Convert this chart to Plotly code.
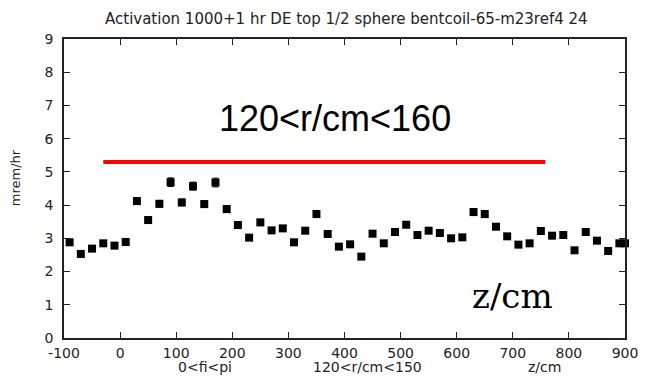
import plotly.graph_objects as go

z_cm = [-90, -70, -50, -30, -10, 10, 30, 50, 70, 90, 110, 130, 150, 170, 190, 210, 230,
        250, 270, 290, 310, 330, 350, 370, 390, 410, 430, 450, 470, 490, 510, 530, 550,
        570, 590, 610, 630, 650, 670, 690, 710, 730, 750, 770, 790, 810, 830, 850, 870,
        890, 900]
dose = [2.88, 2.53, 2.69, 2.85, 2.78, 2.89, 4.12, 3.55, 4.04, 4.69, 4.08, 4.57, 4.03, 4.68,
        3.88, 3.40, 3.02, 3.48, 3.24, 3.30, 2.88, 3.23, 3.73, 3.13, 2.75, 2.82, 2.45, 3.14,
        2.85, 3.19, 3.41, 3.10, 3.23, 3.16, 3.00, 3.03, 3.79, 3.73, 3.35, 3.06, 2.81, 2.85,
        3.22, 3.08, 3.10, 2.64, 3.19, 2.93, 2.62, 2.85, 2.85]
dose_err = [0.07, 0.06, 0.07, 0.07, 0.07, 0.07, 0.10, 0.09, 0.10, 0.13, 0.10, 0.12, 0.10, 0.13,
            0.10, 0.09, 0.07, 0.09, 0.08, 0.08, 0.07, 0.08, 0.10, 0.08, 0.07, 0.07, 0.06, 0.08,
            0.07, 0.08, 0.09, 0.08, 0.08, 0.08, 0.07, 0.07, 0.10, 0.10, 0.09, 0.08, 0.07, 0.07,
            0.08, 0.08, 0.08, 0.07, 0.08, 0.07, 0.07, 0.07, 0.07]

limit_x = [-30, 758]
limit_y = [5.3, 5.3]

x_ticks = [-100, 0, 100, 200, 300, 400, 500, 600, 700, 800, 900]
x_tick_text = ["-100", "0", "100", "200", "300", "400", "500", "600", "700", "800", "900"]
y_ticks = [0, 1, 2, 3, 4, 5, 6, 7, 8, 9]

title_text = "Activation 1000+1 hr DE top 1/2 sphere bentcoil-65-m23ref4 24"
big_label = "120&lt;r/cm&lt;160"
bottom_labels = ["0&lt;fi&lt;pi", "120&lt;r/cm&lt;150", "z/cm"]
bottom_label_x = [152, 441, 757]

fig = go.Figure()
fig.add_trace(go.Scatter(
    x=limit_x, y=limit_y, mode="lines",
    line=dict(color="#ff0000", width=4), hoverinfo="skip", showlegend=False))
fig.add_trace(go.Scatter(
    x=z_cm, y=dose, mode="markers",
    marker=dict(symbol="square", size=8, color="black"),
    error_y=dict(type="data", array=dose_err, color="black", thickness=1, width=3),
    cliponaxis=False, showlegend=False))

axis_common = dict(showline=True, linecolor="#222", linewidth=1.5, mirror="ticks",
                   ticks="inside", ticklen=6, tickcolor="#222", tickwidth=1,
                   showgrid=False, zeroline=False,
                   tickfont=dict(family="DejaVu Sans", size=14, color="#222"))
fig.update_xaxes(range=[-100, 900], tickvals=x_ticks, ticktext=x_tick_text,
                 ticklabelstandoff=1, **axis_common)
fig.update_yaxes(range=[0, 9], tickvals=y_ticks, ticklabelstandoff=6, **axis_common)

annotations = [
    dict(text=title_text, xref="paper", yref="paper", x=0.504, y=1.0, yshift=20,
         yanchor="middle", showarrow=False,
         font=dict(family="DejaVu Sans", size=15, color="#222")),
    dict(text="mrem/hr", xref="paper", yref="paper", x=-0.087, y=0.535, textangle=-90,
         xanchor="center", yanchor="middle", showarrow=False,
         font=dict(family="DejaVu Sans", size=13, color="#222")),
    dict(text=big_label, xref="x", yref="y", x=383, y=6.6, showarrow=False,
         font=dict(family="Liberation Sans", size=36, color="black")),
    dict(text="z/cm", xref="x", yref="y", x=699, y=1.25, showarrow=False,
         font=dict(family="DejaVu Serif", size=34, color="black")),
]
for lab, lx in zip(bottom_labels, bottom_label_x):
    annotations.append(dict(text=lab, xref="x", yref="paper", x=lx, y=-0.097,
                            yanchor="middle", showarrow=False,
                            font=dict(family="DejaVu Sans", size=14, color="#222")))

fig.update_layout(
    width=650, height=382,
    margin=dict(l=64, r=19, t=39, b=44),
    paper_bgcolor="white", plot_bgcolor="white",
    annotations=annotations,
)
fig.write_html("out.html")
